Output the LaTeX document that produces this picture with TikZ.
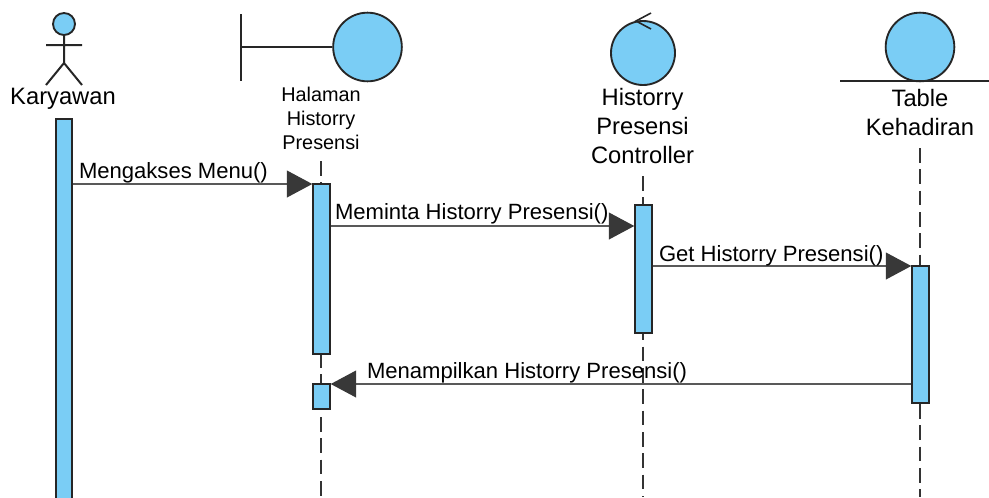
\documentclass[tikz,border=0pt]{standalone}
\usepackage{fontspec}
\setmainfont{Liberation Sans}
\usetikzlibrary{arrows.meta}
\definecolor{fillblue}{HTML}{7ACDF5}
\definecolor{tipgray}{HTML}{383838}

\begin{document}
\begin{tikzpicture}[x=0.75pt,y=-0.75pt,
					line width=1.5pt,
					life line/.style={dash pattern=on 11pt off 5pt,line width=1.3pt,draw=black!80},
					bar node/.style={rectangle,draw=black!85,fill=fillblue,minimum width=12.4pt,inner sep=0pt,line width=1.4pt},
					main node/.style={circle,draw=black!85,fill=fillblue,inner sep=0pt,line width=1.4pt},
					label node/.style={align=center,font=\fontsize{17.8}{21.6}\selectfont,inner sep=0pt},
					msg/.style={line width=1.2pt,draw=black!65,-{Triangle[length=19pt,width=20pt,color=tipgray]}},
					msg text/.style={font=\fontsize{16.55}{18}\selectfont,inner sep=0pt,anchor=base west}]

  \useasboundingbox (0,0) rectangle (989,497);

  % actor
  \node[main node,minimum size=16.5pt] (head) at (64,24) {};
  \coordinate (hip) at (64,63);
  \coordinate (footA) at (46,85);
  \coordinate (footB) at (82,85);
  \coordinate (armA) at (46,45);
  \coordinate (armB) at (82,45);
  \draw[draw=black!85] (head) -- (hip) (hip) -- (footA) (hip) -- (footB) (armA) -- (armB);
  \node[label node] (karyawan) at (63,99) {Karyawan};

  % boundary
  \node[main node,minimum size=51.5pt] (boundary) at (367.5,47) {};
  \coordinate (wallA) at (241,14);
  \coordinate (wallB) at (241,81);
  \coordinate (wallC) at (241,47);
  \draw[draw=black!85] (wallA) -- (wallB) (wallC) -- (boundary);
  \node[label node,font=\fontsize{14.9}{18}\selectfont] (halaman) at (321,118) {Halaman\\Historry\\Presensi};

  % control
  \node[main node,minimum size=48pt] (control) at (643,53) {};
  \coordinate (tipA) at (636,21);
  \coordinate (tipB) at (651,13);
  \coordinate (tipC) at (651,29);
  \draw[line width=1.2pt,draw=black!85] (tipB) -- (tipA) -- (tipC);
  \node[label node] (controller) at (642.5,126) {Historry\\Presensi\\Controller};

  % entity
  \node[main node,minimum size=51.5pt] (entity) at (920,47) {};
  \coordinate (floorA) at (840,81);
  \coordinate (floorB) at (989,81);
  \draw[line width=1.2pt,draw=black!85] (floorA) -- (floorB);
  \node[label node] (table) at (920,112.5) {Table\\Kehadiran};

  % life lines
  \coordinate (endA) at (321,497);
  \coordinate (endB) at (643,497);
  \coordinate (endC) at (920,497);
  \coordinate (startA) at (321,161);
  \coordinate (startB) at (643,176);
  \coordinate (startC) at (920,148);
  \draw[life line] (startA) -- (endA);
  \draw[life line] (startB) -- (endB);
  \draw[life line] (startC) -- (endC);

  % bars
  \node[bar node,minimum height=295pt] (barK) at (64,315.7) {};
  \node[bar node,minimum height=127.5pt] (barH) at (321.5,269) {};
  \node[bar node,minimum height=18.5pt] (barHb) at (321.5,396.5) {};
  \node[bar node,minimum height=96pt] (barC) at (643.5,269) {};
  \node[bar node,minimum height=102.5pt] (barT) at (920.5,334.5) {};

  % messages
  \draw[msg] (barK.east |- 0,184) -- (barH.west |- 0,184);
  \draw[msg] (barH.east |- 0,226) -- (barC.west |- 0,226);
  \draw[msg] (barC.east |- 0,266) -- (barT.west |- 0,266);
  \draw[msg] (barT.west |- 0,384) -- (barHb.east |- 0,384);

  \node[msg text] (t1) at (78,178) {Mengakses Menu()};
  \node[msg text] (t2) at (334,219) {Meminta Historry Presensi()};
  \node[msg text] (t3) at (658,261) {Get Historry Presensi()};
  \node[msg text] (t4) at (366,378) {Menampilkan Historry Presensi()};
\end{tikzpicture}
\end{document}
